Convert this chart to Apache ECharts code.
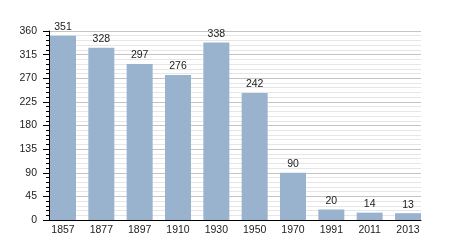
<!DOCTYPE html>
<html>
<head>
<meta charset="utf-8">
<script src="https://cdn.jsdelivr.net/npm/echarts@6/dist/echarts.min.js"></script>
<style>html,body{margin:0;padding:0;background:#fff}#c{width:450px;height:250px}</style>
</head>
<body>
<div id="c"></div>
<script>
const years = ['1857','1877','1897','1910','1930','1950','1970','1991','2011','2013'];
const population = [351,328,297,276,338,242,90,20,14,13];
const yTicks = {min:0, max:360, interval:45};

const chart = echarts.init(document.getElementById('c'), null, {renderer:'canvas'});
const font = 'Liberation Sans, Arial, sans-serif';
chart.setOption({
  animation:false,
  backgroundColor:'#ffffff',
  grid:[
    {left:49, right:29, top:31, bottom:30},
    {left:43.83, right:22.83, top:31, bottom:30}
  ],
  xAxis:[
    {type:'value', gridIndex:0, min:0, max:1, z:10,
     axisLine:{show:true, lineStyle:{color:'#000', width:1}},
     axisTick:{show:false}, axisLabel:{show:false}, splitLine:{show:false}},
    {type:'category', gridIndex:1, data:years,
     axisLine:{show:false}, axisTick:{show:false},
     axisLabel:{color:'#222', fontSize:10.5, fontFamily:font, margin:5}}
  ],
  yAxis:[
    {type:'value', gridIndex:0, min:yTicks.min, max:yTicks.max, interval:yTicks.interval, z:0,
     axisLine:{show:true, lineStyle:{color:'#000', width:1}},
     axisTick:{show:true, length:6, lineStyle:{color:'#000'}},
     minorTick:{show:true, splitNumber:5, length:3, lineStyle:{color:'#000'}},
     axisLabel:{color:'#222', fontSize:10.5, fontFamily:font, margin:12},
     splitLine:{show:true, lineStyle:{color:'#c4c4c4', width:1}},
     minorSplitLine:{show:true, lineStyle:{color:'#e6e6e6', width:1}}},
    {type:'value', gridIndex:1, min:yTicks.min, max:yTicks.max, show:false}
  ],
  series:[{
    type:'bar', xAxisIndex:1, yAxisIndex:1, data:population, barWidth:26, z:5,
    itemStyle:{color:'#99b3cf'},
    label:{show:true, position:'top', distance:3, color:'#222', fontSize:10.5, fontFamily:font}
  }]
});
</script>
</body>
</html>
